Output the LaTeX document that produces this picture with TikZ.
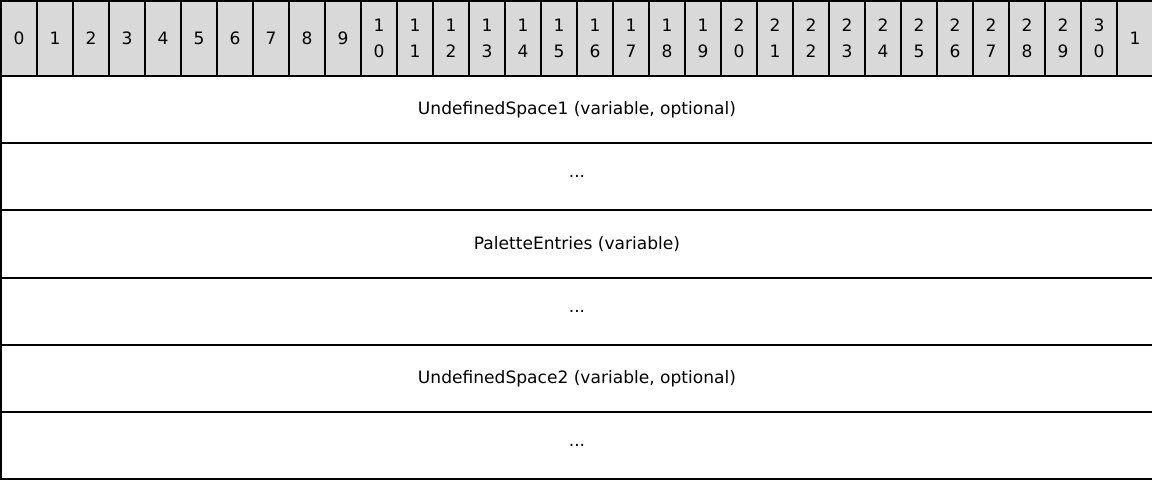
\documentclass[tikz,border=0pt]{standalone}
\usepackage{fontspec}
\setmainfont{DejaVu Sans}
\usetikzlibrary{positioning}
\definecolor{headgray}{RGB}{217,217,217}

\begin{document}
\begin{tikzpicture}[x=0.75pt,y=-0.75pt,node distance=0pt,
    bitcell/.style={draw,fill=headgray,line width=1.6pt,outer sep=0pt,
                    inner sep=0pt,minimum width=27pt,minimum height=56.25pt,
                    align=center,font=\fontsize{12.8}{19.5}\selectfont},
    field/.style={draw,line width=1.6pt,outer sep=0pt,inner sep=0pt,
                  minimum width=864pt,minimum height=50.4pt,
                  font=\fontsize{12.8}{15}\selectfont}]

  \useasboundingbox (0,0) rectangle (1152,480);

  % bit ruler
  \node[bitcell,anchor=north west] (b0) at (1,1) {0};
  \foreach \i [remember=\i as \j (initially 0)] in {1,...,31}{
    \pgfmathtruncatemacro{\tens}{\i/10}
    \pgfmathtruncatemacro{\ones}{mod(\i,10)}
    \ifnum\i<10 \def\lbl{\i}\else\ifnum\i=31 \def\lbl{1}\else
      \def\lbl{\tens\\\ones}\fi\fi
    \node[bitcell,right=of b\j] (b\i) {\lbl};
  }

  % fields
  \node[field,anchor=north west] (undef1) at (1,76) {UndefinedSpace1 (variable, optional)};
  \node[field,below=of undef1]   (more1)   {...};
  \node[field,below=of more1]    (palette) {PaletteEntries (variable)};
  \node[field,below=of palette]  (more2)   {...};
  \node[field,below=of more2]    (undef2)  {UndefinedSpace2 (variable, optional)};
  \node[field,below=of undef2]   (more3)   {...};
\end{tikzpicture}
\end{document}
